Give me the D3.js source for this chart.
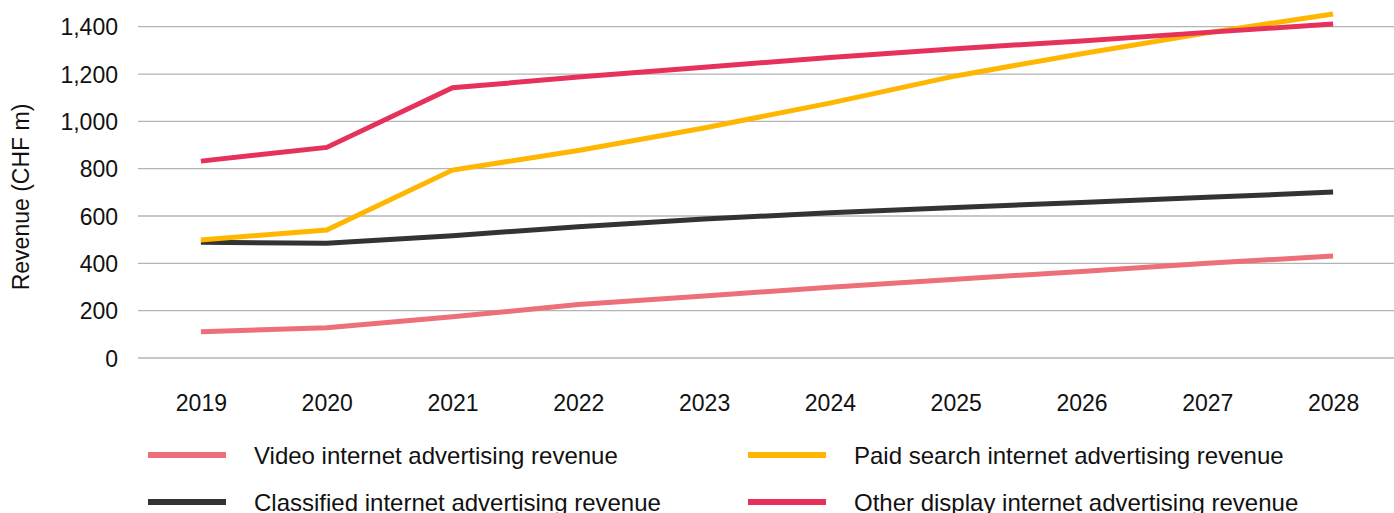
<!DOCTYPE html>
<html>
<head>
<meta charset="utf-8">
<script src="https://cdn.jsdelivr.net/npm/d3@7/dist/d3.min.js"></script>
<style>
  html, body { margin: 0; padding: 0; background: #fff; }
  svg { display: block; font-family: "Liberation Sans", Arial, Helvetica, sans-serif; }
</style>
</head>
<body>
<svg id="chart" width="1394" height="513"></svg>
<script>
// Internet advertising revenue in Switzerland, CHF millions
const years = ["2019", "2020", "2021", "2022", "2023", "2024", "2025", "2026", "2027", "2028"];
const videoRevenue      = [111, 128, 174, 226, 262, 299, 333, 366, 400, 431];
const paidSearchRevenue = [499, 541, 794, 877, 972, 1077, 1192, 1286, 1374, 1454];
const classifiedRevenue = [489, 485, 517, 555, 587, 614, 636, 657, 679, 701];
const otherDisplayRevenue = [832, 890, 1142, 1187, 1229, 1270, 1307, 1340, 1376, 1411];
const yTicks = [0, 200, 400, 600, 800, 1000, 1200, 1400];

const series = [
  { name: "Video internet advertising revenue", values: videoRevenue, color: "#ec6f7a" },
  { name: "Paid search internet advertising revenue", values: paidSearchRevenue, color: "#ffb600" },
  { name: "Classified internet advertising revenue", values: classifiedRevenue, color: "#333333" },
  { name: "Other display internet advertising revenue", values: otherDisplayRevenue, color: "#e6325a" }
];
// draw order: lower series first, the red and yellow lines on top
const drawOrder = [0, 2, 1, 3];

const svg = d3.select("#chart");
const plotLeft = 138, plotRight = 1396, plotTop = 26.7, plotBottom = 358;

const x = d3.scalePoint().domain(years).range([plotLeft, plotRight]).padding(0.5);
const y = d3.scaleLinear().domain([0, 1400]).range([plotBottom, plotTop]);

// horizontal gridlines
svg.append("g")
  .selectAll("line")
  .data(yTicks)
  .join("line")
  .attr("x1", plotLeft).attr("x2", 1394)
  .attr("y1", d => y(d)).attr("y2", d => y(d))
  .attr("stroke", "#b4b4b4").attr("stroke-width", 1.3);

// y axis labels
const yAxis = svg.append("g")
  .attr("transform", `translate(${plotLeft - 20},0)`)
  .call(d3.axisLeft(y).tickValues(yTicks).tickSize(0).tickFormat(d3.format(",")));
yAxis.select(".domain").remove();
yAxis.selectAll("text")
  .attr("x", 0).attr("dy", "0.36em")
  .attr("font-size", 23).attr("fill", "#111")
  .attr("font-family", "Liberation Sans, Arial, sans-serif");

// x axis labels
const xAxis = svg.append("g")
  .attr("transform", `translate(0,${plotBottom})`)
  .call(d3.axisBottom(x).tickSize(0));
xAxis.select(".domain").remove();
xAxis.selectAll("text")
  .attr("y", 45).attr("dy", "0.36em")
  .attr("font-size", 23).attr("fill", "#111")
  .attr("font-family", "Liberation Sans, Arial, sans-serif");

// y axis title
svg.append("text")
  .attr("transform", "translate(29,197) rotate(-90)")
  .attr("text-anchor", "middle")
  .attr("font-size", 23).attr("fill", "#111")
  .text("Revenue (CHF m)");

// series lines
const line = d3.line()
  .x((d, i) => x(years[i]))
  .y(d => y(d));

svg.append("g")
  .selectAll("path")
  .data(drawOrder.map(i => series[i]))
  .join("path")
  .attr("d", d => line(d.values))
  .attr("fill", "none")
  .attr("stroke", d => d.color)
  .attr("stroke-width", 5);

// legend, two columns
const legendPos = [
  { x: 148, y: 455 }, { x: 748, y: 455 },
  { x: 148, y: 502 }, { x: 748, y: 502 }
];
const legend = svg.append("g")
  .selectAll("g")
  .data(series)
  .join("g")
  .attr("transform", (d, i) => `translate(${legendPos[i].x},${legendPos[i].y})`);
legend.append("line")
  .attr("x1", 0).attr("x2", 78)
  .attr("stroke", d => d.color).attr("stroke-width", 6);
legend.append("text")
  .attr("x", 106).attr("dy", "0.36em")
  .attr("font-size", 24).attr("fill", "#111")
  .text(d => d.name);
</script>
</body>
</html>
